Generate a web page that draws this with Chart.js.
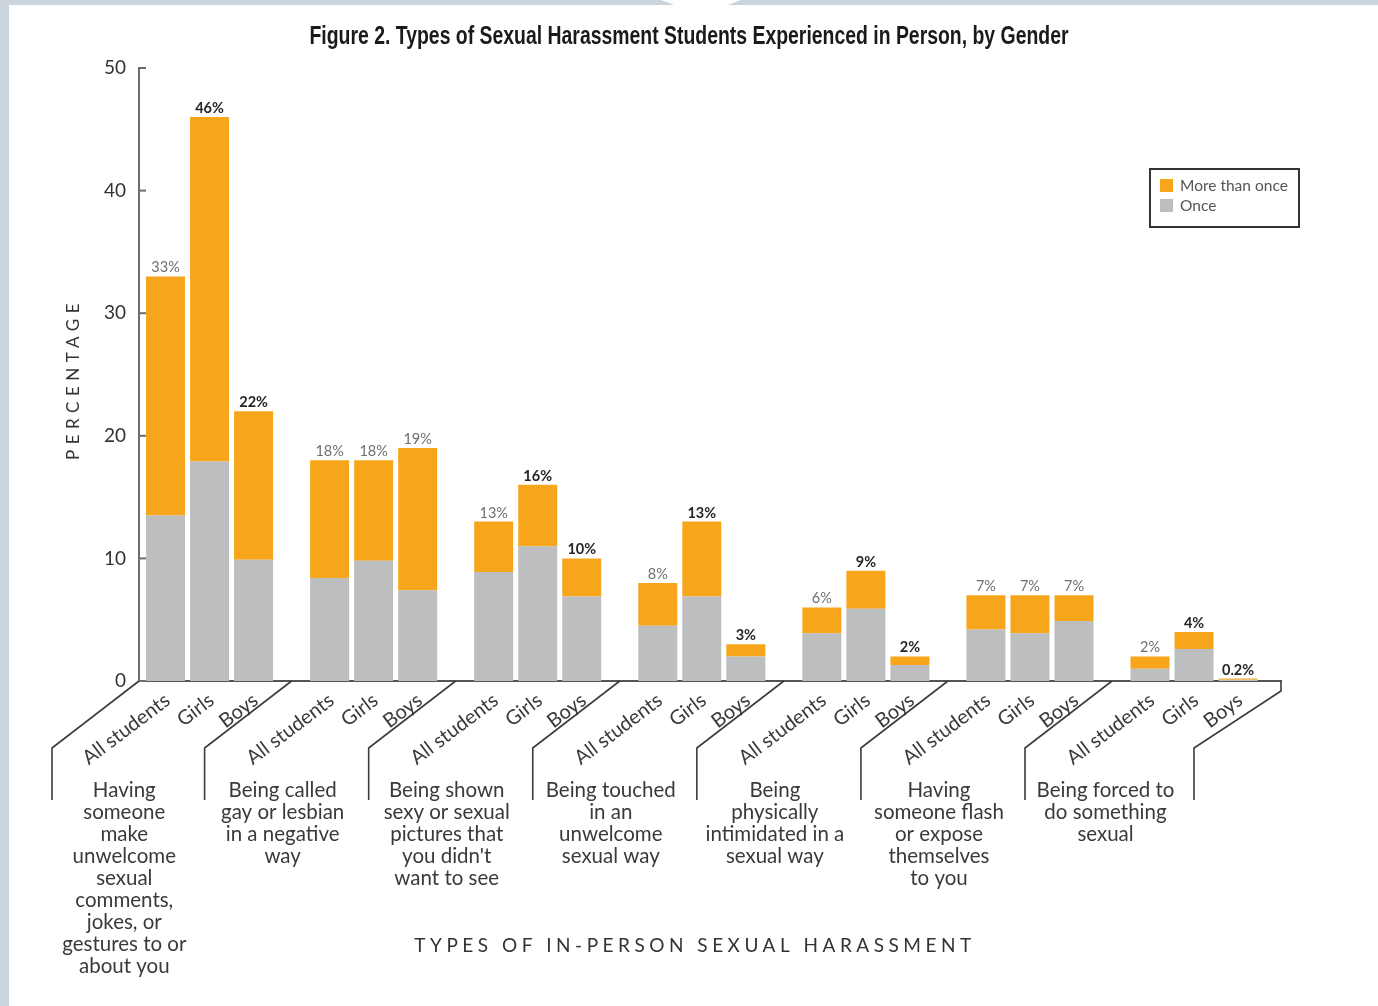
<!DOCTYPE html>
<html>
<head>
<meta charset="utf-8">
<script src="https://cdn.jsdelivr.net/npm/chart.js@4"></script>
<style>
  html, body { margin: 0; padding: 0; }
  body { width: 1378px; height: 1006px; background: #c9d4dc; position: relative; overflow: hidden; }
  #sheet { position: absolute; left: 9px; top: 5px; right: 0; bottom: 0; background: #fff; }
  #notch { position: absolute; left: 661px; top: 0; width: 80px; height: 6px; background: #fff;
           clip-path: polygon(0 0, 100% 0, 80% 100%, 20% 100%); }
  canvas { position: absolute; left: 0; top: 0; }
</style>
</head>
<body>
<div id="sheet"></div>
<div id="notch"></div>
<canvas id="chart" width="1378" height="1006"></canvas>
<script>
// harassment types (x groups), one text line per entry
const categories = [
  ['Having', 'someone', 'make', 'unwelcome', 'sexual', 'comments,', 'jokes, or', 'gestures to or', 'about you'],
  ['Being called', 'gay or lesbian', 'in a negative', 'way'],
  ['Being shown', 'sexy or sexual', 'pictures that', "you didn't", 'want to see'],
  ['Being touched', 'in an', 'unwelcome', 'sexual way'],
  ['Being', 'physically', 'intimidated in a', 'sexual way'],
  ['Having', 'someone flash', 'or expose', 'themselves', 'to you'],
  ['Being forced to', 'do something', 'sexual']
];
const barNames = ['All students', 'Girls', 'Boys'];

// percentages
const onceAll    = [13.5, 8.4, 8.9, 4.5, 3.9, 4.2, 1.0];
const moreAll    = [19.5, 9.6, 4.1, 3.5, 2.1, 2.8, 1.0];
const onceGirls  = [17.9, 9.8, 11.0, 6.9, 5.9, 3.9, 2.6];
const moreGirls  = [28.1, 8.2, 5.0, 6.1, 3.1, 3.1, 1.4];
const onceBoys   = [9.9, 7.4, 6.9, 2.0, 1.3, 4.9, 0.1];
const moreBoys   = [12.1, 11.6, 3.1, 1.0, 0.7, 2.1, 0.1];

// labels printed above the bars
const totalAll   = ['33%', '18%', '13%', '8%', '6%', '7%', '2%'];
const totalGirls = ['46%', '18%', '16%', '13%', '9%', '7%', '4%'];
const totalBoys  = ['22%', '19%', '10%', '3%', '2%', '7%', '0.2%'];
const boldAll    = [false, false, false, false, false, false, false];
const boldGirls  = [true, false, true, true, true, false, true];
const boldBoys   = [true, false, true, true, true, false, true];

const yTicks = [0, 10, 20, 30, 40, 50];

const ORANGE = '#f7a61c';
const GREY = '#bdbec0';
const INK = '#3a3a3a';

function pts(arr) {
  return arr.map((v, i) => ({ x: i, y: v }));
}

const barOpts = { categoryPercentage: 0.805, barPercentage: 0.886, borderWidth: 0 };

const datasets = [
  { label: 'Once', stack: 'all', data: pts(onceAll), backgroundColor: GREY, ...barOpts },
  { label: 'Once', stack: 'girls', data: pts(onceGirls), backgroundColor: GREY, ...barOpts },
  { label: 'Once', stack: 'boys', data: pts(onceBoys), backgroundColor: GREY, ...barOpts },
  { label: 'More than once', stack: 'all', data: pts(moreAll), backgroundColor: ORANGE, ...barOpts },
  { label: 'More than once', stack: 'girls', data: pts(moreGirls), backgroundColor: ORANGE, ...barOpts },
  { label: 'More than once', stack: 'boys', data: pts(moreBoys), backgroundColor: ORANGE, ...barOpts }
];

const totals = [totalAll, totalGirls, totalBoys];
const bolds = [boldAll, boldGirls, boldBoys];

/* everything Chart.js does not draw by itself */
const extras = {
  id: 'extras',
  afterDraw(chart) {
    const ctx = chart.ctx;
    const xs = chart.scales.x, ys = chart.scales.y;
    const area = chart.chartArea;
    const bottom = area.bottom;
    ctx.save();

    // tick marks point into the plot
    ctx.strokeStyle = '#6d6d6d';
    ctx.lineWidth = 2;
    yTicks.forEach(t => {
      const py = ys.getPixelForValue(t);
      ctx.beginPath();
      ctx.moveTo(area.left, py);
      ctx.lineTo(area.left + 7, py);
      ctx.stroke();
    });

    // value labels
    ctx.textAlign = 'center';
    ctx.textBaseline = 'alphabetic';
    for (let s = 0; s < 3; s++) {
      const meta = chart.getDatasetMeta(3 + s);
      meta.data.forEach((el, g) => {
        ctx.font = (bolds[s][g] ? 'bold ' : '') + '14.5px Lato';
        ctx.fillStyle = bolds[s][g] ? '#262626' : '#6f6f6f';
        ctx.fillText(totals[s][g], el.x, el.y - 4);
      });
    }

    // brackets under the axis
    const bounds = [area.left];
    for (let g = 0; g < categories.length - 1; g++) bounds.push(xs.getPixelForValue(g + 0.5));
    bounds.push(area.right);
    ctx.strokeStyle = '#3c3c3c';
    ctx.lineWidth = 1.6;
    bounds.forEach((bx, i) => {
      const last = i === bounds.length - 1;
      ctx.beginPath();
      ctx.moveTo(bx, bottom);
      ctx.lineTo(bx, last ? bottom + 10 : bottom);
      ctx.lineTo(bx - 87, bottom + 67);
      ctx.lineTo(bx - 87, bottom + 119);
      ctx.stroke();
    });

    // slanted bar names
    ctx.fillStyle = INK;
    ctx.font = '20px Lato';
    ctx.textAlign = 'right';
    ctx.textBaseline = 'middle';
    for (let s = 0; s < 3; s++) {
      chart.getDatasetMeta(s).data.forEach(el => {
        ctx.save();
        ctx.translate(el.x + 2, bottom + 17);
        ctx.rotate(-37 * Math.PI / 180);
        ctx.fillText(barNames[s], 0, 0);
        ctx.restore();
      });
    }

    // group descriptions
    ctx.textAlign = 'center';
    ctx.font = '20.5px Lato';
    categories.forEach((lines, g) => {
      const cx = (bounds[g] + bounds[g + 1]) / 2 - 91;
      lines.forEach((t, k) => ctx.fillText(t, cx, bottom + 109 + k * 22));
    });

    // axis titles
    ctx.fillStyle = '#333';
    ctx.font = '19px Lato';
    ctx.letterSpacing = '4.5px';
    ctx.fillText('TYPES OF IN-PERSON SEXUAL HARASSMENT', 695, 946);
    ctx.save();
    ctx.translate(74, 379);
    ctx.rotate(-Math.PI / 2);
    ctx.font = '17px Lato';
    ctx.letterSpacing = '5.5px';
    ctx.fillText('PERCENTAGE', 0, 0);
    ctx.restore();
    ctx.letterSpacing = '0px';

    // legend
    ctx.strokeStyle = '#333';
    ctx.lineWidth = 2;
    ctx.strokeRect(1150, 169, 149, 58);
    ctx.fillStyle = ORANGE;
    ctx.fillRect(1160, 179, 13, 13);
    ctx.fillStyle = GREY;
    ctx.fillRect(1160, 199, 13, 13);
    ctx.fillStyle = '#555';
    ctx.font = '15.5px Lato';
    ctx.textAlign = 'left';
    ctx.fillText('More than once', 1180, 186);
    ctx.fillText('Once', 1180, 206);

    // title, squeezed like a condensed face
    const title = 'Figure 2. Types of Sexual Harassment Students Experienced in Person, by Gender';
    ctx.font = 'bold 25px "Liberation Sans Narrow", "Liberation Sans"';
    ctx.fillStyle = '#1a1a1a';
    ctx.textAlign = 'center';
    const w = ctx.measureText(title).width;
    ctx.save();
    ctx.translate(689, 37);
    ctx.scale(759 / w, 1);
    ctx.fillText(title, 0, 0);
    ctx.restore();

    ctx.restore();
  }
};

new Chart(document.getElementById('chart'), {
  type: 'bar',
  data: { datasets },
  options: {
    responsive: false,
    animation: false,
    layout: { padding: { left: 0, right: 97, top: 68, bottom: 325 } },
    plugins: {
      legend: { display: false },
      tooltip: { enabled: false },
      title: { display: false }
    },
    scales: {
      x: {
        type: 'linear',
        min: -0.43,
        max: 6.53,
        offset: false,
        ticks: { display: false, stepSize: 1, includeBounds: false },
        grid: { display: false },
        border: { display: true, color: '#555', width: 2 },
        afterFit: s => { s.height = 0; }
      },
      y: {
        stacked: true,
        min: 0,
        max: 50,
        ticks: { stepSize: 10, color: '#333', padding: 13, font: { family: 'Lato', size: 19 } },
        grid: { display: false, drawTicks: false },
        border: { display: true, color: '#6d6d6d', width: 2 },
        afterFit: s => { s.width = 139; }
      }
    }
  },
  plugins: [extras]
});
</script>
</body>
</html>
